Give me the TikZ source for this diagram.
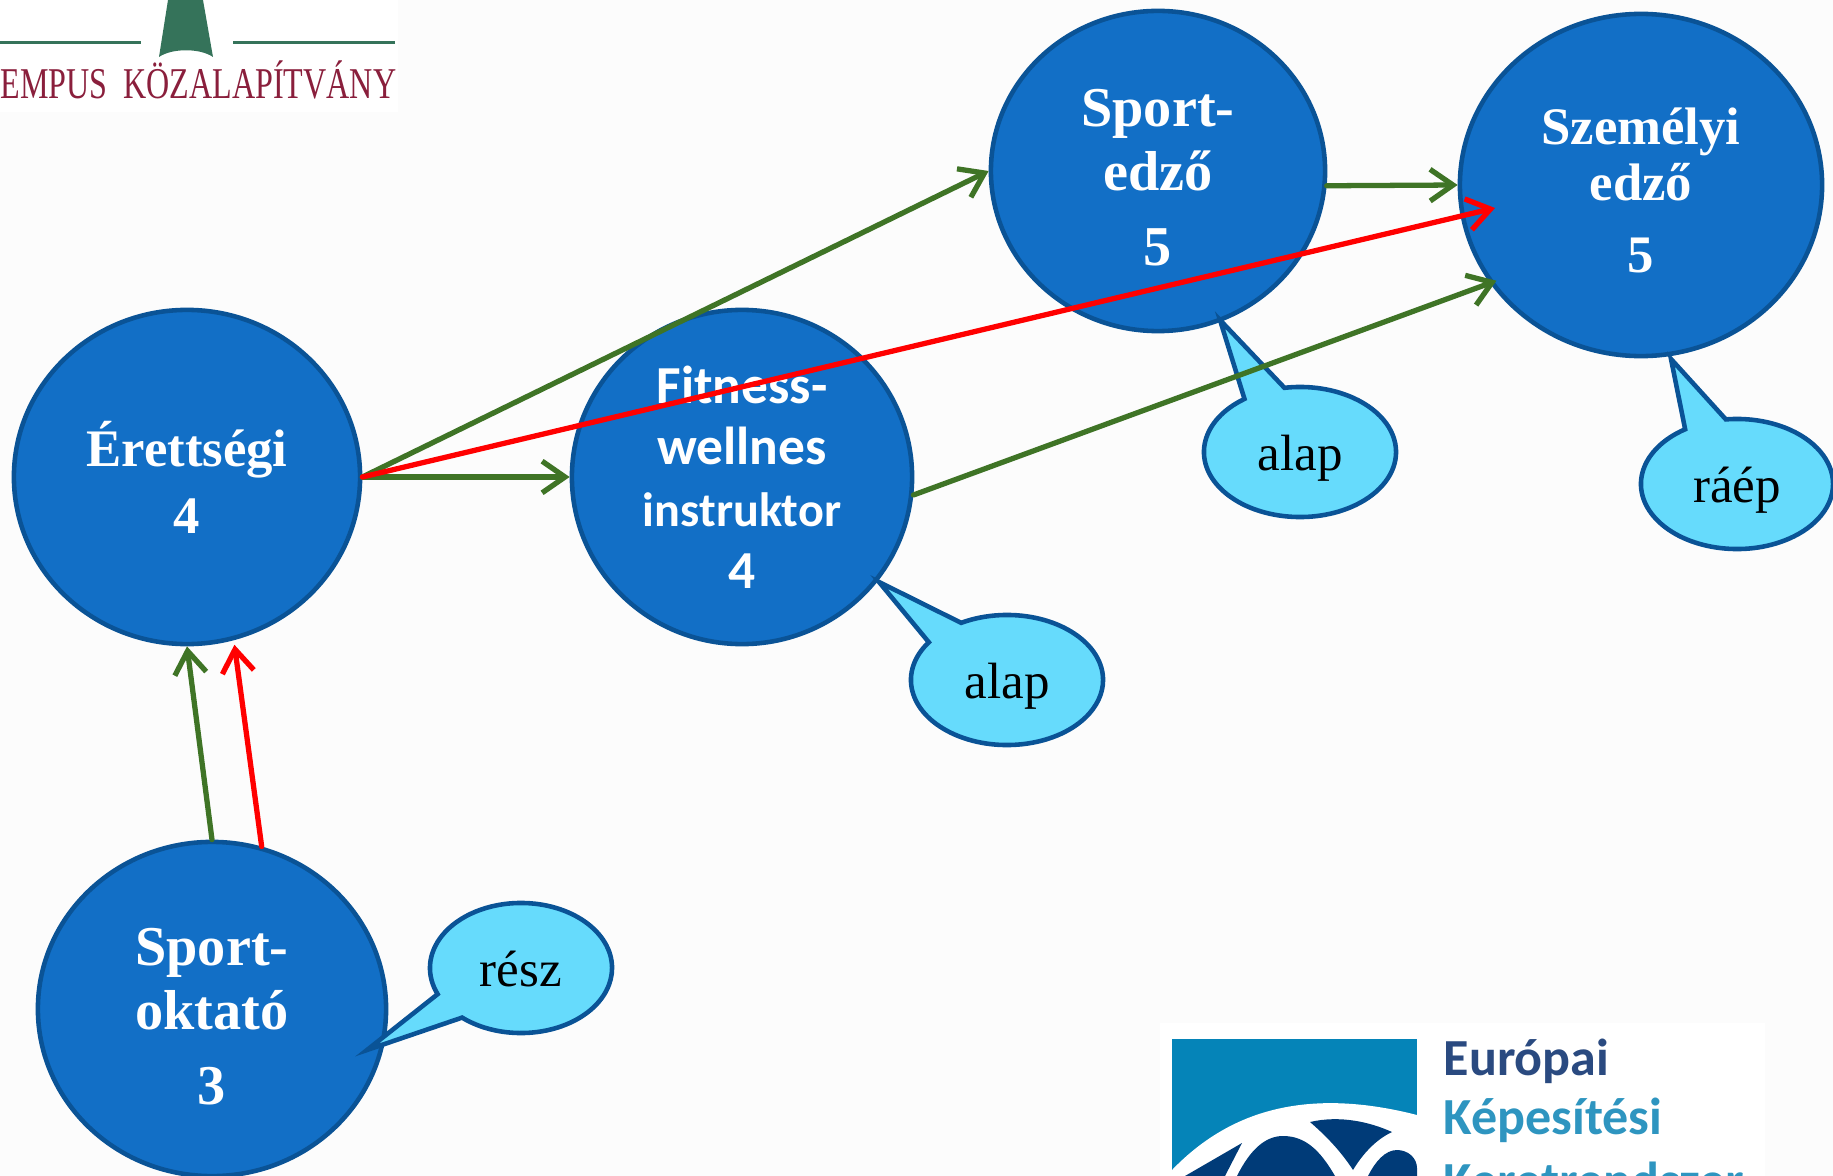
\documentclass[tikz,border=0pt]{standalone}
\usepackage{fontspec}
\setmainfont{Liberation Serif}
\setsansfont{Carlito}
\usetikzlibrary{shapes.geometric, shapes.callouts, arrows.meta, positioning}

\definecolor{pagegrey}{HTML}{FCFCFC}
\definecolor{circlefill}{HTML}{126FC6}
\definecolor{circleline}{HTML}{0A5396}
\definecolor{bubblefill}{HTML}{66DBFC}
\definecolor{arrowgreen}{HTML}{3F7426}
\definecolor{logogreen}{HTML}{35735A}
\definecolor{logored}{HTML}{8A1F3C}
\definecolor{logoblue}{HTML}{0584B8}
\definecolor{logonavy}{HTML}{003B78}
\definecolor{logotext}{HTML}{2A4A80}
\definecolor{logoteal}{HTML}{2E95C0}

\begin{document}
\begin{tikzpicture}[
    x=0.01cm, y=-0.01cm,
    level/.style={ellipse, draw=circleline, fill=circlefill, line width=1.3pt, inner sep=0pt, text=white, align=center, font=\fontsize{16}{18.3}\selectfont\bfseries},
    bubble/.style={ellipse callout, draw=circleline, fill=bubblefill, line width=1.3pt, inner sep=0pt, minimum width=1.92cm, minimum height=1.3cm, callout pointer arc=26, text height=13.5pt, text depth=3pt, font=\fontsize{14.5}{17}\selectfont},
    logotitle/.style={anchor=base west, inner sep=0pt, text=logoteal, font=\sffamily\fontsize{14.8}{15}\selectfont\bfseries},
    arrow/.style={-{Straight Barb[length=6.5pt,width=9pt]}, line width=1.5pt, line cap=round, arrowgreen},
    redarrow/.style={arrow, red}
]

\useasboundingbox (0,0) rectangle (1833,1176);
\fill[pagegrey] (0,0) rectangle (1833,1176);

% logos
\fill[white] (0,0) rectangle (398,112);
\fill[logogreen] (168,0) -- (203,0) -- (213,57) .. controls (200,48) and (172,48) .. (159,57) -- cycle;
\fill[logogreen] (0,41) rectangle (141,44);
\fill[logogreen] (233,41) rectangle (395,44);
\node[anchor=base west, inner sep=0pt, text=logored, xscale=0.73, transform shape, font=\fontsize{12.5}{13}\selectfont] (tempus) at (0,99) {EMPUS\ \ KÖZALAPÍTVÁNY};

\fill[white] (1160,1023) rectangle (1765,1176);
\fill[logoblue] (1172,1039) rectangle (1417,1176);
\fill[white] (1172,1176) -- (1172,1170) .. controls (1225,1115) and (1300,1085) .. (1417,1115) -- (1417,1176) -- cycle;
\fill[logonavy] (1185,1176) -- (1242,1143) -- (1225,1176) -- cycle;
\fill[logonavy] (1237,1176) .. controls (1250,1150) and (1265,1136) .. (1283,1136) .. controls (1305,1136) and (1320,1150) .. (1335,1176) -- cycle;
\fill[logonavy] (1310,1122) .. controls (1340,1115) and (1370,1122) .. (1392,1132) .. controls (1375,1140) and (1362,1155) .. (1353,1170) .. controls (1340,1150) and (1325,1135) .. (1310,1122) -- cycle;
\fill[logonavy] (1368,1176) .. controls (1375,1162) and (1385,1150) .. (1397,1150) .. controls (1408,1150) and (1417,1158) .. (1417,1168) -- (1417,1176) -- cycle;
\node[logotitle, text=logotext] (europai) at (1443,1075) {Európai};
\node[logotitle] (kepesitesi) at (1443,1134) {Képesítési};
\node[logotitle] (keret) at (1443,1198) {Keretrendszer};

% levels
\node[level, minimum width=3.46cm, minimum height=3.34cm, font=\fontsize{15}{19}\selectfont\bfseries] (erettsegi) at (187,477) {Érettségi\\4};
\node[level, minimum width=3.4cm, minimum height=3.34cm, font=\sffamily\fontsize{15.2}{17.5}\selectfont\bfseries] (fitness) at (742,477) {Fitness-\\wellnes\\{\fontsize{13.7}{17.5}\selectfont instruktor}\\4};
\node[level, minimum width=3.34cm, minimum height=3.2cm] (sportedzo) at (1158,171) {\rule{0pt}{14.3pt}Sport-\\edző\\[3pt]5};
\node[level, minimum width=3.62cm, minimum height=3.42cm, font=\fontsize{15}{16}\selectfont\bfseries] (szemelyi) at (1641,185) {\rule{0pt}{13.5pt}Személyi\\edző\\[4.5pt]5};
\node[level, minimum width=3.48cm, minimum height=3.34cm] (sportoktato) at (212,1009) {\rule{0pt}{15pt}Sport-\\oktató\\[3pt]3};

% bubbles
\node[bubble, callout absolute pointer={(879,582)}] (alapa) at (1007,680) {alap};
\node[bubble, callout absolute pointer={(1220,320)}] (alapb) at (1300,452) {alap};
\node[bubble, callout absolute pointer={(1671,359)}] (raep) at (1737,484) {ráép};
\node[bubble, minimum width=1.82cm, callout absolute pointer={(367,1050)}] (resz) at (521,968) {rész};

% arrows
\coordinate (redtip) at (1495,208);
\draw[arrow] (erettsegi.east) -- (fitness.west);
\draw[arrow] (erettsegi.east) -- (sportedzo.west);
\draw[arrow] (sportedzo.-5) -- (szemelyi.west);
\draw[arrow, shorten >=-2pt] (fitness.-6) -- (szemelyi.213);
\draw[arrow] (sportoktato.north) -- (erettsegi.south);
\draw[redarrow, shorten >=1.3pt] (sportoktato.73) -- (erettsegi.-74);
\draw[redarrow] (erettsegi.east) -- (redtip);

\end{tikzpicture}
\end{document}
